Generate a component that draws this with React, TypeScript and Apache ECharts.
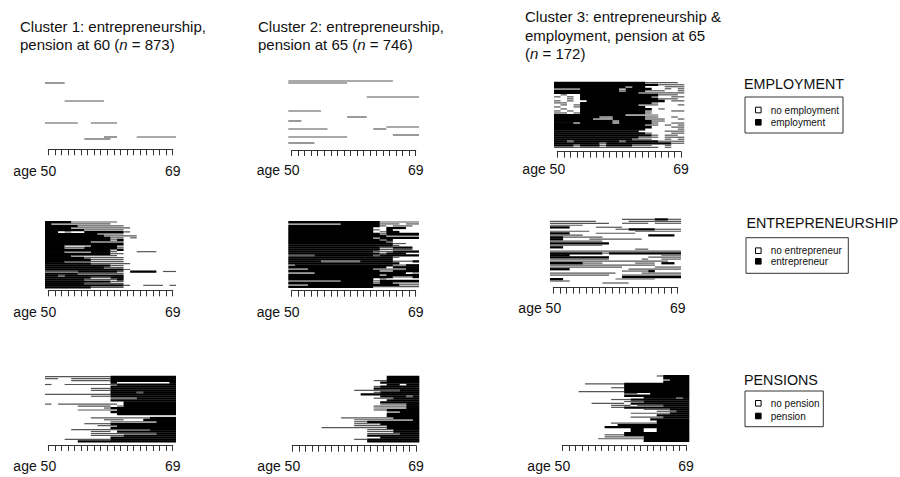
import React, { useEffect, useRef } from 'react';
import * as echarts from 'echarts';

const FONT = "'Liberation Sans', Arial, Helvetica, sans-serif";

// ---- tick labels / axis range ----
const ageMin = 50;
const ageMax = 69;
const firstTickLabel = 'age 50';
const lastTickLabel = '69';

// ---- cluster titles ----
const clusterTitleLines = [
  ['Cluster 1: entrepreneurship,', 'pension at 60 ('],
  ['Cluster 2: entrepreneurship,', 'pension at 65 ('],
  ['Cluster 3: entrepreneurship &', 'employment, pension at 65', '('],
];
const clusterN = [873, 746, 172];

// ---- legends ----
const legendTitles = ['EMPLOYMENT', 'ENTREPRENEURSHIP', 'PENSIONS'];
const legendItems = [
  ['no employment', 'employment'],
  ['no entrepreneur', 'entrepreneur'],
  ['no pension', 'pension'],
];

// ---- sequence data: one string per sequence, one char per age 50..69 ----
// '#' = in state (dense), '+' = in state (single thin sequence line), '.' = not in state
const emp1 = [
  '....................', '+++.................', '....................', '....................',
  '....................', '....................', '....................', '....................',
  '....................', '....................', '...++++++...........', '....................',
  '....................', '....................', '....................', '....................',
  '....................', '....................', '....................', '....................',
  '....................', '+++++..++++.........', '....................', '....................',
  '....................', '....................', '....................', '....................',
  '.........++...++++++', '......++++..........', '....................', '....................',
  '....................',
];
const emp2 = [
  '++++++++++++++++....', '+++++++++...........', '....................', '....................',
  '....................', '....................', '....................', '....................',
  '............++++++++', '....................', '....................', '....................',
  '....................', '....................', '....................', '+++++...............',
  '....................', '....................', '.........+++........', '....................',
  '++..................', '....................', '....................', '...............+++++',
  '++++++.......++.....', '....................', '....................', '................++++',
  '+++++++++...........', '....................', '....................', '++++................',
  '....................',
];
const emp3 = [
  '##############+++++.', '################++++', '###########+##...+++', '++++######+####..+.+',
  '##########+###+++..+', '#############+++++++', '.+..############+++.', '+.+.###########+..++',
  '..+.############+++.', '+.+..############.++', '++..###########+....', '.+.+#########+++...+',
  '+..+##########......', '.+..###########.+...', '+.+.##########+...++', '++.+##########+.....',
  '###########+++++....', '#######++#####++..+.', '######+++#####+++..+', '#########+#####++...',
  '###+#####+#####+..++', '##############++.+.+', '###############...++', '##############.....+',
  '#############....+++', '##############+...++', '###############+.++.', '#############+++.+++',
  '############+++..+.+', '##+#######+#####++++', '#######+##########++', '###+###+####+++..+..',
  '++++++++++++++++.+..',
];
const ent1 = [
  '####+++++++.........', '#+++++++++..........', '#####+++++++........', '####+++++++++.......',
  '######++++++........', '##.+..######+.......', '########++++........', '#########+++++......',
  '##########++.+......', '##########+#........', '#######+++++........', '############........',
  '###++++####+........', '###+++#####+........', '##########+#........', '###++++###+...+++...',
  '##########++........', '####+++++++.........', '######++++++........', '#######+++++........',
  '###+++++++++........', '#######++++++.......', '##########++........', '#########+++........',
  '############+.......', '+++++######+.####.++', '#####+++++++........', '##+#########........',
  '#######+++##........', '######+++++#........', '##########++........', '######++++++........',
  '############+..+++.+', '#######+++++........',
];
const ent2 = [
  '##############++++++', '++++++++######+++.++', '##############+.+++.', '#############..###..',
  '#############+.#....', '#############.+##...', '##############+#####', '###############+++++',
  '#############+######', '##############+#....', '###############+....', '################++..',
  '################+...', '##############++###.', '##############+++++.', '#############+++####',
  '##############+###..', '++++#########+######', '################+...', '################....',
  '#####++++++#####+++#', '#################...', '+###############++##', '###############.####',
  '+++##########+++++##', '##############++####', '++++##############.+', '##############+#####',
  '################+++#', '#############.+.....', '++++++++#####+######', '#############+##++++',
  '+++##############+++', '#############+++++++',
];
const ent3 = [
  '...........+++++##++', '+++++++.....++++++++', '+++++++++..++++.++++', '+++++...............',
  '###....++++.........', '..........++####++++', '++++++.......+++++++', '###....++++++.......',
  '+++++..........####.', '##++++++............', '##....++++++++......', '++++++++............',
  '#########...........', '++++++++............', '##..................', '.............++.....',
  '++++++++++++++++++++', '########+###########', '###..............+++', '#########......+++++',
  '+++++++++.....+..+++', '++++++++++++++++++..', '#####+++.....+++.##.', '++++++++++++++++....',
  '+++++++++++.....++++', '###.........++++++++', '...........++++#....', '++++++++++....++++++',
  '+++++++++..+++++++++', '...........#########', '##........++++++....', '+++.................',
  '........++++........',
];
const pen1 = [
  '++++++++++##########', '++..++++++##########', '....++++++##########', '..........#........#',
  '+..++++++++#########', '..........##########', '.......+++##########', '.......+++##########',
  '..........####+#####', '++++++++++##########', '.......+++##########', '..........++++######',
  '..........##########', '............########', '+.+++++++++.########', '.....+++++.+########',
  '.........+##########', '.....++++++#########', '..........##########', '...........#########',
  '....................', '.......+++++++++####', '.........+++...#####', '..........+++++++###',
  '......++++##########', '........+++#########', '..........##########', '....++++++++++++####',
  '.......+++.#########', '.......++++++++++###', '.......+++++########', '..........##########',
  '...+++++++##########', '.....###############',
];
const pen2 = [
  '...............#####', '...............#####', '.............++#####', '..............######',
  '...............##.##', '.............+######', '.............#######', '..........+++++++###',
  '.............+######', '...........#########', '..............####+#', '.............+++####',
  '...............#####', '..............######', '..............++++##', '.............+++++##',
  '.............+++++##', '.............++#####', '...............++###', '...............#####',
  '...............#####', '........++++++++####', '..........+++++++++#', '..........++########',
  '..........++++######', '..........+++++#####', '.....++++++++++#####', '............++++####',
  '............++++####', '............+++++###', '............########', '..............######',
  '..........++########', '............########',
];
const pen3 = [
  '...............+####', '................####', '................+###', '................####',
  '....++++++##########', '..........##########', '........++##########', '..........##########',
  '...+++++++##########', '..........++..######', '..........##########', '.............#####+#',
  '........+++#########', '..........+++#######', '.....+++++.#########', '........+++.++++####',
  '........++##########', '.............++++###', '...............+++##', '...........++++++###',
  '...............#####', '...........+++++####', '..............######', '...............#####',
  '........+++++++#####', '.........###########', '.......#############', '...........##..#####',
  '...........##..#####', '..........##########', '.......+++##########', '.......++++++#######',
  '......+++++++#######', '.............#######',
];

const panelRows = [emp1, emp2, emp3, ent1, ent2, ent3, pen1, pen2, pen3];

// ---- layout (pixels) ----
const panelBoxes = [
  { l: 45, r: 176, t: 80, b: 146, axisY: 149.3, labelY: 171.5 },
  { l: 288.3, r: 419, t: 80, b: 146, axisY: 150, labelY: 170.7 },
  { l: 554, r: 684.3, t: 81.7, b: 148.3, axisY: 151.7, labelY: 170 },
  { l: 45, r: 176, t: 221, b: 288.3, axisY: 290.3, labelY: 313.3 },
  { l: 288.3, r: 419, t: 221, b: 287.7, axisY: 290.7, labelY: 312.7 },
  { l: 550, r: 681, t: 218.3, b: 284, axisY: 287.7, labelY: 309.3 },
  { l: 45, r: 176, t: 375.7, b: 442.3, axisY: 445, labelY: 466.7 },
  { l: 289, r: 419.3, t: 375.7, b: 442.3, axisY: 445.7, labelY: 467.3 },
  { l: 559, r: 689.3, t: 375, b: 441.7, axisY: 445, labelY: 467.3 },
];
const titleBoxes = [
  { x: 20, y: [26.5, 44] },
  { x: 258, y: [26.5, 44] },
  { x: 525, y: [16.5, 35, 53] },
];
const legendBoxes = [
  { tx: 744, ty: 84, bx: 745, by: 97, bw: 98, bh: 36, iy: [110, 122.3] },
  { tx: 746.5, ty: 223.3, bx: 746, by: 237.7, bw: 102.3, bh: 35.6, iy: [250.7, 261.3] },
  { tx: 744, ty: 380, bx: 745, by: 391, bw: 78.3, bh: 35.7, iy: [403.3, 416] },
];

function toRuns(rows: string[]) {
  const out: number[][] = [];
  rows.forEach((raw, r) => {
    const s = raw.padEnd(20, '.').slice(0, 20);
    let c = 0;
    while (c < 20) {
      const ch = s[c];
      if (ch !== '#' && ch !== '+') { c++; continue; }
      let e = c;
      while (e + 1 < 20 && s[e + 1] === ch) e++;
      out.push([r, c, e, ch === '#' ? 0 : 1]);
      c = e + 1;
    }
  });
  return out;
}

function buildOption() {
  const grid: any[] = [];
  const xAxis: any[] = [];
  const yAxis: any[] = [];
  const series: any[] = [];
  panelRows.forEach((rows, k) => {
    const p = panelBoxes[k];
    const cw = (p.r - p.l) / 20;
    const tickL = p.l + cw / 2;
    const tickR = p.r - cw / 2;
    grid.push({ left: p.l, top: p.t, width: p.r - p.l, height: p.b - p.t });
    grid.push({ left: tickL, top: p.axisY - 1, width: tickR - tickL, height: 1 });
    xAxis.push({ gridIndex: 2 * k, type: 'value', min: 0, max: 20, show: false });
    yAxis.push({ gridIndex: 2 * k, type: 'value', min: 0, max: rows.length, inverse: true, show: false });
    xAxis.push({
      gridIndex: 2 * k + 1, type: 'value', min: ageMin, max: ageMax, interval: 1, position: 'bottom',
      axisLine: { show: true, onZero: false, lineStyle: { color: '#333', width: 1 } },
      axisTick: { show: true, length: 6, lineStyle: { color: '#333', width: 1 } },
      splitLine: { show: false },
      axisLabel: {
        show: true, margin: p.labelY - p.axisY - 8, fontSize: 14, fontFamily: FONT, color: '#111',
        formatter: (v: number) => (v === ageMin ? '{a|' + firstTickLabel + '}' : v === ageMax ? '{b|' + lastTickLabel + '}' : ''),
        rich: {
          a: { fontSize: 14, fontFamily: FONT, color: '#111', padding: [0, 27, 0, 0] },
          b: { fontSize: 14, fontFamily: FONT, color: '#111' },
        },
      },
    });
    yAxis.push({ gridIndex: 2 * k + 1, type: 'value', min: 0, max: 1, show: false });
    series.push({
      type: 'custom', xAxisIndex: 2 * k, yAxisIndex: 2 * k, silent: true, clip: false,
      encode: { x: [1, 2], y: 0 },
      data: toRuns(rows),
      renderItem: (_params: any, api: any) => {
        const row = api.value(0);
        const c0 = api.value(1);
        const c1 = api.value(2);
        const kind = api.value(3);
        const p0 = api.coord([c0, row]);
        const p1 = api.coord([c1 + 1, row + 1]);
        const h = p1[1] - p0[1];
        if (kind === 1) {
          return { type: 'rect', shape: { x: p0[0], y: p0[1] + h / 2 - 0.6, width: p1[0] - p0[0], height: 1.2 }, style: { fill: '#555' } };
        }
        return { type: 'rect', shape: { x: p0[0], y: p0[1], width: p1[0] - p0[0], height: h + 0.3 }, style: { fill: '#000' } };
      },
    });
  });

  const elements: any[] = [];
  clusterTitleLines.forEach((lines, i) => {
    const tb = titleBoxes[i];
    lines.forEach((line, j) => {
      const last = j === lines.length - 1;
      const text = last ? line + '{i|n} = ' + clusterN[i] + ')' : line;
      elements.push({
        type: 'text', x: tb.x, y: tb.y[j], silent: true,
        style: {
          text, fontSize: 15, fontFamily: FONT, fill: '#111', verticalAlign: 'middle', textVerticalAlign: 'middle',
          rich: { i: { fontSize: 15, fontFamily: FONT, fontStyle: 'italic', fill: '#111' } },
        },
      });
    });
  });
  legendTitles.forEach((title, i) => {
    const lb = legendBoxes[i];
    elements.push({
      type: 'text', x: lb.tx, y: lb.ty, silent: true,
      style: { text: title, fontSize: 14.3, fontFamily: FONT, fill: '#111', verticalAlign: 'middle', textVerticalAlign: 'middle' },
    });
    elements.push({
      type: 'rect', silent: true, shape: { x: lb.bx, y: lb.by, width: lb.bw, height: lb.bh },
      style: { fill: 'none', stroke: '#333', lineWidth: 1 },
    });
    legendItems[i].forEach((item, j) => {
      const y = lb.iy[j];
      elements.push({
        type: 'rect', silent: true, shape: { x: 755.5, y: y - 2.8, width: 5.6, height: 5.6 },
        style: { fill: j === 0 ? '#fff' : '#000', stroke: '#000', lineWidth: 1 },
      });
      elements.push({
        type: 'text', x: 770.7, y, silent: true,
        style: { text: item, fontSize: 10, fontFamily: FONT, fill: '#111', verticalAlign: 'middle', textVerticalAlign: 'middle' },
      });
    });
  });

  return {
    animation: false,
    backgroundColor: '#fff',
    grid, xAxis, yAxis, series,
    graphic: { elements },
  };
}

export default function App() {
  const ref = useRef<HTMLDivElement>(null);
  useEffect(() => {
    if (!ref.current) return;
    const chart = echarts.init(ref.current, undefined, { renderer: 'svg' });
    chart.setOption(buildOption() as any);
    return () => chart.dispose();
  }, []);
  return (
    <div
      ref={ref}
      style={{ position: 'fixed', left: 0, top: 0, width: 900, height: 477, background: '#fff' }}
    />
  );
}
